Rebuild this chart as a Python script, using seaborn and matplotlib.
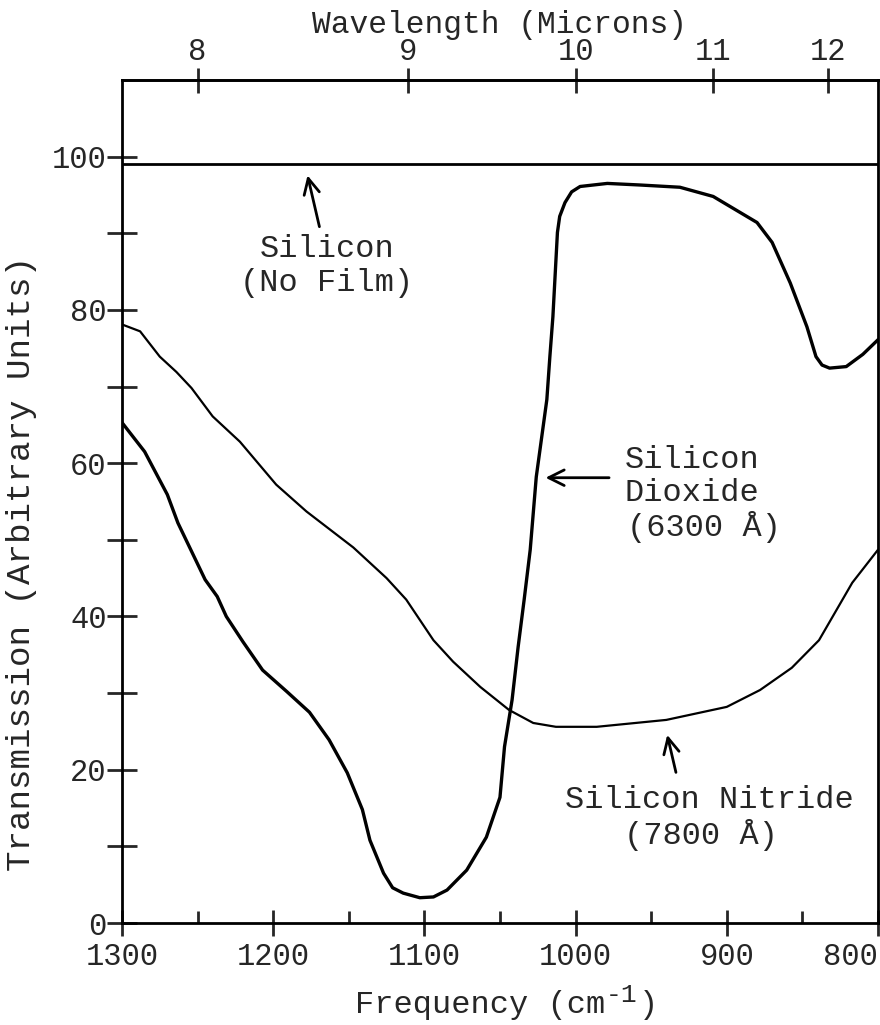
import numpy as np
import pandas as pd
import matplotlib
matplotlib.use("Agg")
import matplotlib.pyplot as plt
import seaborn as sns

# ---------------- data ----------------
oxide_freq = [1300, 1285, 1270, 1263, 1245, 1237, 1231, 1220, 1207, 1191, 1176, 1163,
              1151, 1141, 1136, 1127, 1121, 1114, 1103, 1094, 1085, 1072, 1059, 1050,
              1047, 1042, 1038, 1034, 1030, 1026, 1019, 1017, 1015, 1012, 1010.5, 1007,
              1002.6, 997, 979, 958, 931, 909, 880, 870, 858, 847, 841, 837, 832, 821,
              810, 800]
oxide_T = [65.3, 61.5, 55.9, 52.2, 44.8, 42.6, 40.0, 36.7, 33.0, 30.2, 27.5, 23.9,
           19.6, 14.8, 10.8, 6.5, 4.6, 3.9, 3.3, 3.4, 4.3, 6.9, 11.2, 16.4,
           23.0, 29.1, 36.0, 42.2, 48.7, 58.2, 68.3, 73.9, 79.1, 90.1, 92.2, 94.0,
           95.4, 96.1, 96.5, 96.3, 96.0, 94.8, 91.4, 88.8, 83.5, 77.8, 73.9, 72.8, 72.4, 72.6,
           74.2, 76.1]

nitride_freq = [1300, 1288, 1275, 1264, 1254, 1240, 1222, 1198, 1178, 1147, 1125, 1112,
                1094, 1081, 1063, 1044, 1028, 1013, 986, 940, 900, 878, 857, 839, 817, 800]
nitride_T = [78.1, 77.2, 73.9, 71.9, 69.8, 66.1, 62.8, 57.2, 53.7, 49.0, 45.0, 42.2,
             36.9, 34.1, 30.8, 27.8, 26.1, 25.6, 25.6, 26.5, 28.2, 30.4, 33.3, 36.9, 44.4, 48.7]

silicon_freq = [1300, 800]
silicon_T = [99.0, 99.0]

freq_ticks = [1300, 1200, 1100, 1000, 900, 800]
freq_minor = [1250, 1150, 1050, 950, 850]
freq_labels = ["1300", "1200", "1100", "1000", "900", "800"]
wl_ticks = [8, 9, 10, 11, 12]
wl_labels = ["8", "9", "10", "11", "12"]
T_ticks = [0, 20, 40, 60, 80, 100]
T_minor = [10, 30, 50, 70, 90]
T_labels = ["0", "20", "40", "60", "80", "100"]

# ---------------- style ----------------
sns.set_style("ticks")
plt.rcParams["font.family"] = ["Liberation Mono", "DejaVu Sans Mono"]

FS = 22
FA = 23
fig = plt.figure(figsize=(8.8, 10.25), dpi=100)
ax = fig.add_axes([0.1386, 0.0995, 0.9977 - 0.1386, 0.922 - 0.0995])

df_ox = pd.DataFrame({"freq": oxide_freq, "T": oxide_T})
df_ni = pd.DataFrame({"freq": nitride_freq, "T": nitride_T})
df_si = pd.DataFrame({"freq": silicon_freq, "T": silicon_T})

line_kw = dict(solid_joinstyle="round", solid_capstyle="round")
sns.lineplot(data=df_si, x="freq", y="T", ax=ax, color="black", lw=2.0)
sns.lineplot(data=df_ni, x="freq", y="T", ax=ax, color="black", lw=1.6, **line_kw)
sns.lineplot(data=df_ox, x="freq", y="T", ax=ax, color="black", lw=2.4, **line_kw)

ax.set_xlim(1300, 800)
ax.set_ylim(0, 110)

for s in ax.spines.values():
    s.set_visible(True)
    s.set_linewidth(2.0)
    s.set_color("black")

ax.set_xticks(freq_ticks)
ax.set_xticklabels(freq_labels, fontsize=FS)
ax.set_xticks(freq_minor, minor=True)
ax.set_yticks(T_ticks)
ax.set_yticklabels(T_labels, fontsize=FS)
ax.set_yticks(T_minor, minor=True)
ax.get_xticklabels()[-1].set_horizontalalignment("right")

ax.tick_params(axis="x", which="major", direction="inout", length=19, width=2, pad=4)
ax.tick_params(axis="x", which="minor", direction="in", length=9, width=2)
ax.tick_params(axis="y", which="both", direction="inout", length=22, width=2, pad=0)

ax.set_xlabel("")
ax.set_ylabel("Transmission (Arbitrary Units)", fontsize=24.7)
ax.yaxis.set_label_coords(-0.112, 0.426)

# x-axis title with a full-size typewriter superscript
fig.text(355 / 880, 1 - 1013 / 1025, "Frequency (cm", fontsize=FA, ha="left", va="baseline")
fig.text(606 / 880, 1 - 1002 / 1025, "-1", fontsize=19, ha="left", va="baseline")
fig.text(639 / 880, 1 - 1013 / 1025, ")", fontsize=FA, ha="left", va="baseline")


def f2w(x):
    x = np.asarray(x, dtype=float)
    with np.errstate(divide="ignore", invalid="ignore"):
        return 10000.0 / x


sec = ax.secondary_xaxis("top", functions=(f2w, f2w))
sec.set_xticks(wl_ticks)
sec.set_xticklabels(wl_labels, fontsize=FS)
sec.tick_params(axis="x", which="major", direction="inout", length=18, width=2, pad=0)
sec.tick_params(axis="x", which="minor", length=0)
sec.spines["top"].set_linewidth(2.0)
sec.set_xlabel("Wavelength (Microns)", fontsize=22.5, labelpad=3)

# ---------------- annotations ----------------
ax.text(1164.5, 87.9, "Silicon", fontsize=FA, ha="center", va="center")
ax.text(1164.5, 83.5, "(No Film)", fontsize=FA, ha="center", va="center")
ax.annotate("", xy=(1177.7, 97.9), xytext=(1169, 90.5),
            arrowprops=dict(arrowstyle="->", lw=2, color="black", mutation_scale=28))

ax.text(967.5, 60.4, "Silicon", fontsize=FA, ha="left", va="center")
ax.text(967.5, 56.1, "Dioxide", fontsize=FA, ha="left", va="center")
ax.text(966.0, 51.7, "(6300 Å)", fontsize=FA, ha="left", va="center")
ax.annotate("", xy=(1021.7, 58.1), xytext=(976, 58.1),
            arrowprops=dict(arrowstyle="->", lw=2, color="black", mutation_scale=28))

ax.text(911.4, 16.1, "Silicon Nitride", fontsize=FA, ha="center", va="center")
ax.text(917.0, 11.5, "(7800 Å)", fontsize=FA, ha="center", va="center")
ax.annotate("", xy=(939.8, 24.9), xytext=(933.2, 19.3),
            arrowprops=dict(arrowstyle="->", lw=2, color="black", mutation_scale=28))

fig.savefig("out.png", dpi=100)
